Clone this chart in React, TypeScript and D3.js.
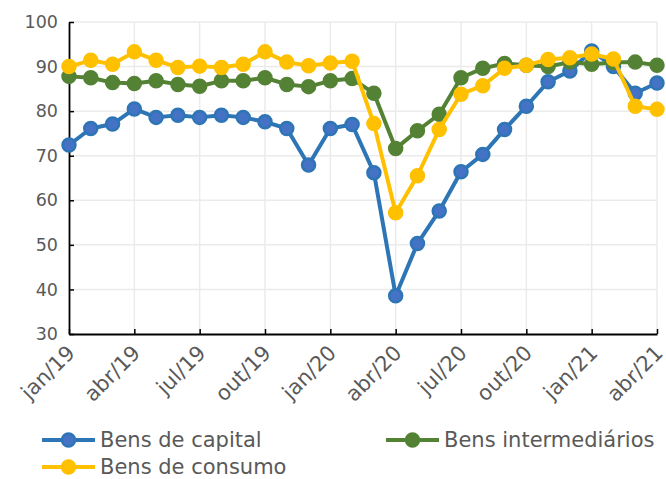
import { useEffect, useRef } from "react";
import * as d3 from "d3";

const months = [
  "jan/19", "fev/19", "mar/19", "abr/19", "mai/19", "jun/19", "jul/19", "ago/19", "set/19", "out/19", "nov/19", "dez/19",
  "jan/20", "fev/20", "mar/20", "abr/20", "mai/20", "jun/20", "jul/20", "ago/20", "set/20", "out/20", "nov/20", "dez/20",
  "jan/21", "fev/21", "mar/21", "abr/21",
];

const capital = [
  72.4, 76.1, 77.1, 80.5, 78.6, 79.1, 78.6, 79.1, 78.6, 77.6, 76.1, 67.9,
  76.1, 77.0, 66.2, 38.6, 50.3, 57.6, 66.4, 70.3, 75.9, 81.1, 86.6, 89.0,
  93.5, 90.0, 84.0, 86.3,
];
const intermediarios = [
  87.8, 87.5, 86.4, 86.2, 86.8, 86.0, 85.6, 86.8, 86.8, 87.5, 86.0, 85.5,
  86.8, 87.3, 84.0, 71.6, 75.6, 79.3, 87.5, 89.6, 90.7, 90.3, 90.0, 91.0,
  90.5, 90.9, 91.0, 90.3,
];
const consumo = [
  90.0, 91.4, 90.5, 93.3, 91.4, 89.8, 90.1, 89.8, 90.5, 93.3, 91.0, 90.2,
  90.8, 91.2, 77.2, 57.2, 65.5, 75.9, 83.8, 85.7, 89.6, 90.3, 91.6, 92.0,
  92.8, 91.7, 81.1, 80.4,
];

const yTicks = [30, 40, 50, 60, 70, 80, 90, 100];

const series = [
  { name: "Bens de capital", values: capital, stroke: "#2E75B6", fill: "#4472C4" },
  { name: "Bens intermediários", values: intermediarios, stroke: "#548235", fill: "#548235" },
  { name: "Bens de consumo", values: consumo, stroke: "#FFC000", fill: "#FFC000" },
];

const W = 666;
const H = 479;
const M = { left: 69, right: 9, top: 22, bottom: 145 };
const FONT = "'DejaVu Sans', sans-serif";
const TEXT = "#595959";

export default function App() {
  const ref = useRef<SVGSVGElement | null>(null);

  useEffect(() => {
    const svg = d3.select(ref.current);
    svg.selectAll("*").remove();

    const x = d3
      .scalePoint<string>()
      .domain(months)
      .range([M.left, W - M.right]);
    const y = d3
      .scaleLinear()
      .domain([30, 100])
      .range([H - M.bottom, M.top]);

    const tickMonths = months.filter((_, i) => i % 3 === 0);

    // grid
    svg
      .append("g")
      .selectAll("line")
      .data(yTicks.slice(1))
      .join("line")
      .attr("x1", M.left)
      .attr("x2", W - M.right)
      .attr("y1", (d) => y(d))
      .attr("y2", (d) => y(d))
      .attr("stroke", "#EBEBEB")
      .attr("stroke-width", 1.5);
    svg
      .append("g")
      .selectAll("line")
      .data(tickMonths.slice(1))
      .join("line")
      .attr("x1", (d) => x(d)!)
      .attr("x2", (d) => x(d)!)
      .attr("y1", y(30))
      .attr("y2", y(100))
      .attr("stroke", "#EBEBEB")
      .attr("stroke-width", 1.5);

    // axes
    const yAxis = svg
      .append("g")
      .attr("transform", `translate(${M.left},0)`)
      .call(d3.axisLeft(y).tickValues(yTicks).tickSizeInner(-5).tickSizeOuter(0).tickPadding(11));
    const xAxis = svg
      .append("g")
      .attr("transform", `translate(0,${y(30)})`)
      .call(d3.axisBottom(x).tickValues(tickMonths).tickSizeInner(-5).tickSizeOuter(0).tickFormat(() => ""));
    [yAxis, xAxis].forEach((g) => {
      g.select(".domain").attr("stroke", "#000").attr("stroke-width", 1.8);
      g.selectAll(".tick line").attr("stroke", "#000").attr("stroke-width", 1.5);
    });
    yAxis
      .selectAll("text")
      .attr("fill", TEXT)
      .attr("font-family", FONT)
      .attr("font-size", 17.5);

    // rotated month labels
    svg
      .append("g")
      .selectAll("text")
      .data(tickMonths)
      .join("text")
      .attr("transform", (d) => `translate(${x(d)! + 2},${y(30) + 15}) rotate(-45)`)
      .attr("text-anchor", "end")
      .attr("dy", "0.35em")
      .attr("fill", TEXT)
      .attr("font-family", FONT)
      .attr("font-size", 21)
      .text((d) => d);

    // lines
    const line = d3
      .line<number>()
      .x((_, i) => x(months[i])!)
      .y((d) => y(d));

    series.forEach((s) => {
      const g = svg.append("g");
      g.append("path")
        .attr("d", line(s.values))
        .attr("fill", "none")
        .attr("stroke", s.stroke)
        .attr("stroke-width", 4)
        .attr("stroke-linejoin", "round");
      g.selectAll("circle")
        .data(s.values)
        .join("circle")
        .attr("cx", (_, i) => x(months[i])!)
        .attr("cy", (d) => y(d))
        .attr("r", 6.5)
        .attr("fill", s.fill)
        .attr("stroke", s.stroke)
        .attr("stroke-width", 2.5);
    });

    // legend
    const legendPos = [
      { x: 42, y: 440 },
      { x: 386, y: 440 },
      { x: 42, y: 467 },
    ];
    series.forEach((s, i) => {
      const p = legendPos[i];
      const g = svg.append("g").attr("transform", `translate(${p.x},${p.y})`);
      g.append("line")
        .attr("x1", 0)
        .attr("x2", 53)
        .attr("stroke", s.stroke)
        .attr("stroke-width", 4);
      g.append("circle")
        .attr("cx", 26.5)
        .attr("r", 6.5)
        .attr("fill", s.fill)
        .attr("stroke", s.stroke)
        .attr("stroke-width", 2.5);
      g.append("text")
        .attr("x", 58)
        .attr("dy", "0.35em")
        .attr("fill", TEXT)
        .attr("font-family", FONT)
        .attr("font-size", 21)
        .text(s.name);
    });
  }, []);

  return (
    <div style={{ position: "absolute", left: 0, top: 0, background: "#fff" }}>
      <svg ref={ref} width={W} height={H} viewBox={`0 0 ${W} ${H}`} style={{ display: "block" }} />
    </div>
  );
}
